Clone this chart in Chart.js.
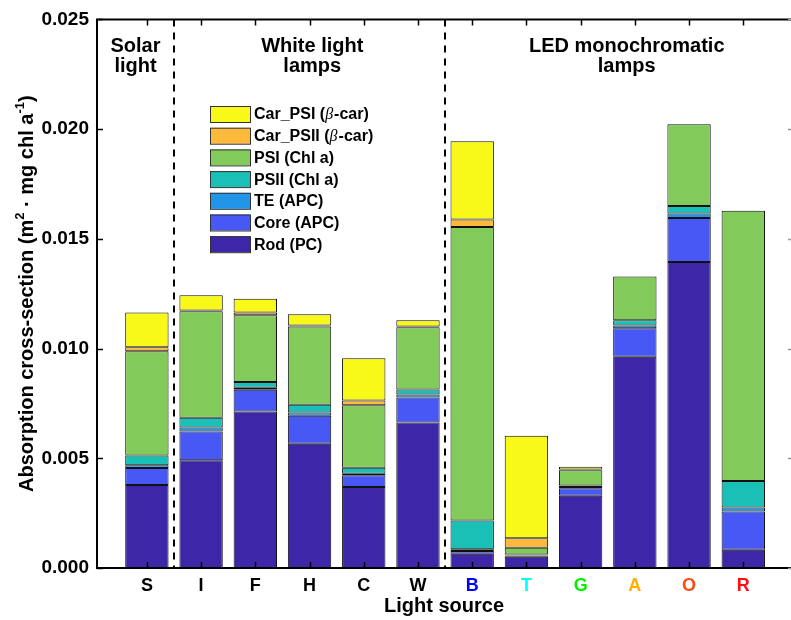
<!DOCTYPE html>
<html lang="en">
  <head>
    <meta charset="UTF-8" />
    <title>Absorption cross-section by light source</title>
    <script src="https://cdn.jsdelivr.net/npm/chart.js"></script>
    <style>
      body {
        margin: 0;
        background: #fff;
      }
      .wrap {
        width: 791px;
        height: 620px;
        position: relative;
      }
    </style>
  </head>
  <body>
    <div class="wrap"><canvas id="absChart"></canvas></div>

    <script>
      // light sources (x axis)
      const sources = ["S", "I", "F", "H", "C", "W", "B", "T", "G", "A", "O", "R"];
      const sourceColors = ["#000", "#000", "#000", "#000", "#000", "#000",
        "#0000ff", "#00ffff", "#00ee00", "#ffb000", "#ff4a10", "#ff1010"];

      // absorption cross-section per pigment pool, m2 / mg chl a (bottom -> top)
      const rod = [0.00378, 0.00491, 0.00713, 0.00566, 0.00369, 0.00663, 0.00065, 0.00051, 0.00329, 0.00963, 0.01395, 0.00083];
      const core = [0.00078, 0.00131, 0.00099, 0.00128, 0.00054, 0.00114, 0.00012, 0.00005, 0.00034, 0.0013, 0.002, 0.00175];
      const te = [0.00012, 0.00018, 0.00009, 0.00015, 0.00007, 0.00014, 0.00008, 0.00002, 0.00006, 0.00012, 0.00021, 0.00018];
      const psii = [0.00045, 0.00045, 0.00027, 0.00035, 0.00027, 0.00023, 0.00131, 0.00004, 0.00007, 0.00024, 0.00034, 0.00121];
      const psi = [0.00475, 0.00485, 0.00304, 0.00357, 0.00285, 0.00283, 0.01338, 0.0003, 0.0007, 0.00199, 0.00372, 0.01231];
      const carPsii = [0.00018, 0.00004, 0.00012, 0.00004, 0.00021, 0.00004, 0.00034, 0.00044, 0.00003, 0, 0, 0];
      const carPsi = [0.00158, 0.00069, 0.00063, 0.00051, 0.00193, 0.00028, 0.00357, 0.00467, 0.00012, 0, 0, 0];

      const yTicks = [0, 0.005, 0.01, 0.015, 0.02, 0.025];

      const series = [
        { label: "Rod (PC)", values: rod, color: "#3d27a8" },
        { label: "Core (APC)", values: core, color: "#4758f5" },
        { label: "TE (APC)", values: te, color: "#2196e8" },
        { label: "PSII (Chl a)", values: psii, color: "#1abfb5" },
        { label: "PSI (Chl a)", values: psi, color: "#82cb5a" },
        { label: "Car_PSII (β-car)", values: carPsii, color: "#fdb93c" },
        { label: "Car_PSI (β-car)", values: carPsi, color: "#f8f918" },
      ];

      const FONT = "'Liberation Sans', Arial, sans-serif";

      // axes frame, inward ticks, separators, group labels, legend, y title
      const decor = {
        id: "decor",
        afterDatasetsDraw(chart) {
          const { ctx, chartArea: a, scales } = chart;
          const x = scales.x;
          ctx.save();
          ctx.strokeStyle = "#000";
          ctx.lineWidth = 2;
          ctx.setLineDash([7, 6]);
          [1.5, 6.5].forEach((v) => {
            const px = Math.round(x.getPixelForValue(v));
            ctx.beginPath();
            ctx.moveTo(px, a.top);
            ctx.lineTo(px, a.bottom);
            ctx.stroke();
          });
          ctx.restore();
        },
        afterDraw(chart) {
          const { ctx, chartArea: a, scales } = chart;
          const x = scales.x;
          const y = scales.y;
          ctx.save();

          // frame
          ctx.strokeStyle = "#000";
          ctx.lineWidth = 2;
          ctx.beginPath();
          ctx.moveTo(a.right, a.top);
          ctx.lineTo(a.left, a.top);
          ctx.lineTo(a.left, a.bottom);
          ctx.lineTo(a.right, a.bottom);
          ctx.stroke();

          // inward ticks
          ctx.lineWidth = 1.5;
          ctx.beginPath();
          x.ticks.forEach((t) => {
            const px = Math.round(x.getPixelForValue(t.value)) + 0.5;
            ctx.moveTo(px, a.bottom);
            ctx.lineTo(px, a.bottom - 6);
            ctx.moveTo(px, a.top);
            ctx.lineTo(px, a.top + 6);
          });
          y.ticks.forEach((t) => {
            const py = Math.round(y.getPixelForValue(t.value)) + 0.5;
            ctx.moveTo(a.left, py);
            ctx.lineTo(a.left + 6, py);
          });
          ctx.stroke();
          ctx.strokeStyle = "#999";
          ctx.beginPath();
          y.ticks.forEach((t) => {
            const py = Math.round(y.getPixelForValue(t.value)) + 0.5;
            ctx.moveTo(a.right, py);
            ctx.lineTo(a.right - 3, py);
          });
          ctx.stroke();

          // group labels
          ctx.fillStyle = "#000";
          ctx.font = "bold 20px " + FONT;
          ctx.textAlign = "center";
          ctx.textBaseline = "alphabetic";
          const groups = [
            { lines: ["Solar", "light"], cx: (a.left + x.getPixelForValue(1.5)) / 2 },
            { lines: ["White light", "lamps"], cx: x.getPixelForValue(4.05) },
            { lines: ["LED monochromatic", "lamps"], cx: x.getPixelForValue(9.85) },
          ];
          groups.forEach((g) => {
            g.lines.forEach((s, i) => ctx.fillText(s, g.cx, a.top + 33 + i * 20));
          });

          // legend (top entry = last dataset)
          const lx = 210;
          const ly = 114;
          const rowH = 21.7;
          series.slice().reverse().forEach((s, i) => {
            const cy = ly + i * rowH;
            ctx.fillStyle = s.color;
            ctx.fillRect(lx, cy - 8, 40, 16);
            ctx.strokeStyle = "#333";
            ctx.lineWidth = 1;
            ctx.strokeRect(lx + 0.5, cy - 7.5, 40, 16);
            ctx.fillStyle = "#000";
            ctx.textAlign = "left";
            ctx.textBaseline = "middle";
            let tx = lx + 44;
            s.label.split(/(β)/).forEach((part) => {
              ctx.font = part === "β" ? "italic 16px 'Liberation Serif', serif" : "bold 16px " + FONT;
              ctx.fillText(part, tx, cy + 1);
              tx += ctx.measureText(part).width + (part === "β" ? 1 : 0);
            });
          });

          // y title with superscripts
          const parts = [
            { t: "Absorption cross-section (m", sup: false },
            { t: "2", sup: true },
            { t: " · mg chl a", sup: false },
            { t: "-1", sup: true },
            { t: ")", sup: false },
          ];
          const mainFont = "bold 20px " + FONT;
          const supFont = "bold 13px " + FONT;
          let total = 0;
          parts.forEach((p) => {
            ctx.font = p.sup ? supFont : mainFont;
            p.w = ctx.measureText(p.t).width;
            total += p.w;
          });
          ctx.translate(27, (a.top + a.bottom) / 2);
          ctx.rotate(-Math.PI / 2);
          ctx.textAlign = "left";
          ctx.textBaseline = "middle";
          let px = -total / 2;
          parts.forEach((p) => {
            ctx.font = p.sup ? supFont : mainFont;
            ctx.fillText(p.t, px, p.sup ? -7 : 0);
            px += p.w;
          });
          ctx.restore();
        },
      };

      const ctx = document.getElementById("absChart").getContext("2d");
      new Chart(ctx, {
        type: "bar",
        data: {
          datasets: series.map((s) => ({
            label: s.label,
            data: sources.map((_, i) => ({ x: i + 1, y: s.values[i] })),
            backgroundColor: s.color,
            borderColor: "#111",
            borderWidth: 1,
            borderSkipped: false,
            barPercentage: 0.8,
            categoryPercentage: 1,
          })),
        },
        options: {
          responsive: true,
          maintainAspectRatio: false,
          animation: false,
          layout: { padding: { top: 14, left: 0, right: 0, bottom: 0 } },
          plugins: {
            legend: { display: false },
            tooltip: { enabled: false },
          },
          scales: {
            x: {
              type: "linear",
              stacked: true,
              offset: false,
              min: 0.08,
              max: 12.88,
              afterBuildTicks: (s) => {
                s.ticks = sources.map((_, i) => ({ value: i + 1 }));
              },
              afterFit: (s) => {
                s.height = 52;
              },
              grid: { display: false, drawTicks: false, offset: false },
              border: { display: false },
              ticks: {
                autoSkip: false,
                maxRotation: 0,
                padding: 7,
                color: (c) => sourceColors[c.index],
                font: { family: FONT, size: 18, weight: "bold" },
                callback: (v) => sources[v - 1] || "",
              },
              title: {
                display: true,
                text: "Light source",
                color: "#000",
                font: { family: FONT, size: 20, weight: "bold" },
                padding: { top: 0, bottom: 2 },
              },
            },
            y: {
              stacked: true,
              min: 0,
              max: 0.025,
              afterBuildTicks: (s) => {
                s.ticks = yTicks.map((v) => ({ value: v }));
              },
              afterFit: (s) => {
                s.width = 97;
              },
              grid: { display: false, drawTicks: false },
              border: { display: false },
              ticks: {
                padding: 8,
                color: "#000",
                font: { family: FONT, size: 19, weight: "bold" },
                callback: (v) => v.toFixed(3),
              },
            },
          },
        },
        plugins: [decor],
      });
    </script>
  </body>
</html>
